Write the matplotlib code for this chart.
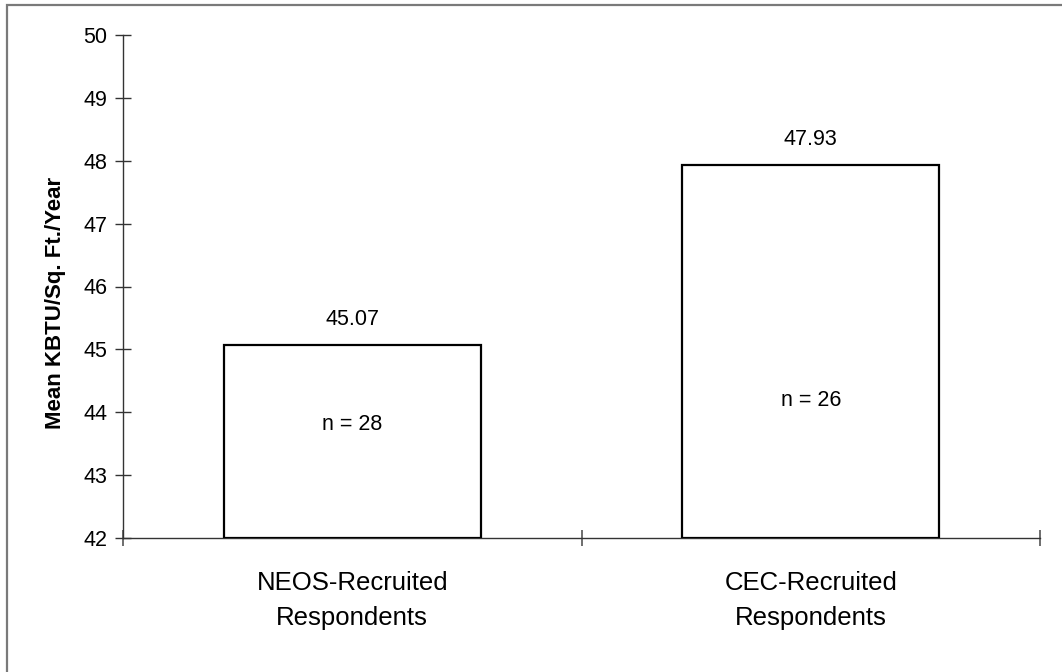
import matplotlib
matplotlib.use("Agg")
import matplotlib.pyplot as plt
from matplotlib.patches import Rectangle

plt.rcParams['font.family'] = ['Liberation Sans', 'DejaVu Sans']

categories = ["NEOS-Recruited\nRespondents", "CEC-Recruited\nRespondents"]
means = [45.07, 47.93]
value_labels = ["45.07", "47.93"]
sample_labels = ["n = 28", "n = 26"]
sample_label_y = [43.80, 44.19]
y_ticks = [42, 43, 44, 45, 46, 47, 48, 49, 50]

W, H = 1062, 672
fig = plt.figure(figsize=(W / 100, H / 100), dpi=100)

# Frame around the whole chart area
fig.patches.append(Rectangle((6.5 / W, -0.1), 1.2, 1 - 4.5 / H + 0.1,
                             transform=fig.transFigure, fill=False,
                             edgecolor="#7a7a7a", linewidth=1.6))

ax = fig.add_axes([123 / W, 1 - 538 / H, (1040 - 123) / W, (538 - 35) / H])

x = list(range(len(categories)))
base = y_ticks[0]
ax.bar(x, [m - base for m in means], bottom=base, width=0.56,
       color="white", edgecolor="black", linewidth=1.6, zorder=3)

for xi, m, lab in zip(x, means, value_labels):
    ax.annotate(lab, (xi, m), xytext=(0, 18.5), textcoords="offset points",
                ha="center", va="center", fontsize=15.5)
for xi, yv, lab in zip(x, sample_label_y, sample_labels):
    ax.text(xi, yv, lab, ha="center", va="center", fontsize=15.5)

ax.set_xlim(-0.5, len(categories) - 0.5)
ax.set_ylim(y_ticks[0], y_ticks[-1])
ax.set_yticks(y_ticks)
ax.set_yticklabels([str(t) for t in y_ticks])

ax.set_xticks(x)
ax.set_xticklabels(categories, fontsize=18.5, linespacing=1.55)
ax.set_xticks([i - 0.5 for i in range(len(categories) + 1)], minor=True)

ax.tick_params(axis="x", which="major", length=0, pad=24)
ax.tick_params(axis="x", which="minor", direction="inout", length=12,
               width=1.2, color="#555555")
ax.tick_params(axis="y", direction="inout", length=12, width=1,
               labelsize=15.5, pad=5.5, color="#333333")

for side in ("top", "right"):
    ax.spines[side].set_visible(False)
for side in ("left", "bottom"):
    ax.spines[side].set_linewidth(1)
    ax.spines[side].set_color("#333333")

fig.text(55 / W, 1 - 303 / H, "Mean KBTU/Sq. Ft./Year", rotation=90,
         ha="center", va="center", fontsize=16, fontweight="bold")

fig.savefig("out.png", dpi=100)
